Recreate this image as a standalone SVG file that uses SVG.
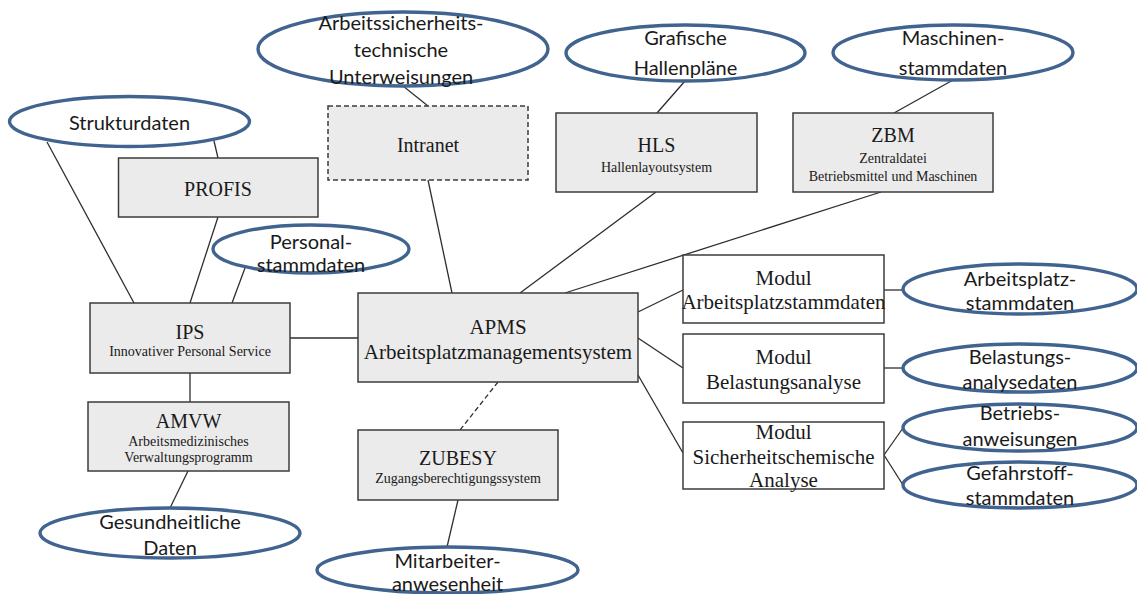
<svg xmlns="http://www.w3.org/2000/svg" width="1137" height="594" viewBox="0 0 1137 594">
<style>
.box{fill:#ebebeb;stroke:#3c3c3c;stroke-width:1.5}
.mod{fill:#ffffff;stroke:#3c3c3c;stroke-width:1.5}
.dash{stroke-dasharray:5,3}
.ell{fill:#ffffff;stroke:#41638f;stroke-width:3.4}
.ln{stroke:#2e2e2e;stroke-width:1.3;fill:none}
.t{font-family:"Liberation Serif","Times New Roman",serif;fill:#1a1a1a;text-anchor:middle}
.big{font-size:20px}
.apms{font-size:21px}
.sm{font-size:14px}
.e{font-family:Lato,"Liberation Sans",sans-serif;font-size:20px;fill:#1a1a1a;text-anchor:middle}
</style>
<rect width="1137" height="594" fill="#ffffff"/>
<g id="connectors">
<line class="ln" x1="403" y1="86" x2="428" y2="106"/>
<line class="ln" x1="428" y1="180" x2="452" y2="293"/>
<line class="ln" x1="47" y1="142" x2="134" y2="303"/>
<line class="ln" x1="214" y1="141" x2="218" y2="158"/>
<line class="ln" x1="218" y1="217" x2="190" y2="303"/>
<line class="ln" x1="245" y1="268" x2="232" y2="303"/>
<line class="ln" x1="290" y1="338" x2="358" y2="338"/>
<line class="ln" x1="190" y1="373" x2="190" y2="402"/>
<line class="ln" x1="188" y1="471" x2="170" y2="508"/>
<line class="ln" x1="685" y1="81" x2="657" y2="113"/>
<line class="ln" x1="656" y1="192" x2="520" y2="293"/>
<line class="ln" x1="953" y1="80" x2="894" y2="113"/>
<line class="ln" x1="881" y1="192" x2="565" y2="293"/>
<line class="ln dash" x1="498" y1="382" x2="460" y2="430"/>
<line class="ln" x1="458" y1="500" x2="447" y2="547"/>
<line class="ln" x1="638" y1="312" x2="683" y2="290"/>
<line class="ln" x1="638" y1="338" x2="683" y2="368"/>
<line class="ln" x1="638" y1="375" x2="683" y2="453"/>
<line class="ln" x1="884" y1="290" x2="903" y2="290"/>
<line class="ln" x1="884" y1="368" x2="903" y2="368"/>
<line class="ln" x1="884" y1="455" x2="903" y2="428"/>
<line class="ln" x1="884" y1="455" x2="903" y2="485"/>
</g>
<g id="n-asu">
<ellipse class="ell" cx="403" cy="49" rx="145" ry="37"/>
<text class="e" x="401" y="30">Arbeitssicherheits-</text>
<text class="e" x="401" y="57">technische</text>
<text class="e" x="401" y="84">Unterweisungen</text>
</g>
<g id="n-intranet">
<rect class="box dash" x="328" y="106" width="200" height="74"/>
<text class="t big" x="428" y="152">Intranet</text>
</g>
<g id="n-struktur">
<ellipse class="ell" cx="129.5" cy="121.5" rx="120" ry="25"/>
<text class="e" x="129.5" y="130">Strukturdaten</text>
</g>
<g id="n-profis">
<rect class="box" x="118.5" y="158" width="199.5" height="59"/>
<text class="t big" x="218" y="196">PROFIS</text>
</g>
<g id="n-grafisch">
<ellipse class="ell" cx="685.5" cy="53" rx="119.5" ry="28"/>
<text class="e" x="685.5" y="45">Grafische</text>
<text class="e" x="685.5" y="75">Hallenpläne</text>
</g>
<g id="n-hls">
<rect class="box" x="556" y="113" width="201" height="79"/>
<text class="t big" x="656.5" y="152">HLS</text>
<text class="t sm" x="656.5" y="172">Hallenlayoutsystem</text>
</g>
<g id="n-maschinen">
<ellipse class="ell" cx="953" cy="52.5" rx="120" ry="27.5"/>
<text class="e" x="953" y="45">Maschinen-</text>
<text class="e" x="953" y="75">stammdaten</text>
</g>
<g id="n-zbm">
<rect class="box" x="793" y="113" width="200" height="79"/>
<text class="t big" x="893" y="142">ZBM</text>
<text class="t sm" x="893" y="163">Zentraldatei</text>
<text class="t sm" x="893" y="181">Betriebsmittel und Maschinen</text>
</g>
<g id="n-personal">
<ellipse class="ell" cx="311" cy="249" rx="98" ry="24"/>
<text class="e" x="311" y="249">Personal-</text>
<text class="e" x="311" y="272">stammdaten</text>
</g>
<g id="n-ips">
<rect class="box" x="90" y="303" width="200" height="70"/>
<text class="t big" x="190" y="339">IPS</text>
<text class="t sm" x="190" y="356">Innovativer Personal Service</text>
</g>
<g id="n-amvw">
<rect class="box" x="88" y="402" width="201" height="69"/>
<text class="t big" x="188.5" y="428">AMVW</text>
<text class="t sm" x="188.5" y="446">Arbeitsmedizinisches</text>
<text class="t sm" x="188.5" y="462">Verwaltungsprogramm</text>
</g>
<g id="n-gesund">
<ellipse class="ell" cx="170" cy="533" rx="130" ry="25"/>
<text class="e" x="170" y="529">Gesundheitliche</text>
<text class="e" x="170" y="555">Daten</text>
</g>
<g id="n-apms">
<rect class="box" x="358" y="293" width="280" height="89"/>
<text class="t apms" x="498" y="334">APMS</text>
<text class="t apms" x="498" y="359">Arbeitsplatzmanagementsystem</text>
</g>
<g id="n-zubesy">
<rect class="box" x="358" y="430" width="200" height="70"/>
<text class="t big" x="458" y="465">ZUBESY</text>
<text class="t sm" x="458" y="483">Zugangsberechtigungssystem</text>
</g>
<g id="n-mitarbeiter">
<ellipse class="ell" cx="447.5" cy="570" rx="130.5" ry="23"/>
<text class="e" x="447.5" y="568">Mitarbeiter-</text>
<text class="e" x="447.5" y="591">anwesenheit</text>
</g>
<g id="n-modul1">
<rect class="mod" x="683" y="255" width="201" height="68"/>
<text class="t apms" x="783.5" y="285">Modul</text>
<text class="t apms" x="783.5" y="309">Arbeitsplatzstammdaten</text>
</g>
<g id="n-modul2">
<rect class="mod" x="683" y="334" width="201" height="69"/>
<text class="t apms" x="783.5" y="364">Modul</text>
<text class="t apms" x="783.5" y="389">Belastungsanalyse</text>
</g>
<g id="n-modul3">
<rect class="mod" x="683" y="422" width="201" height="67"/>
<text class="t apms" x="783.5" y="439">Modul</text>
<text class="t apms" x="783.5" y="464">Sicherheitschemische</text>
<text class="t apms" x="783.5" y="487">Analyse</text>
</g>
<g id="n-apstamm">
<ellipse class="ell" cx="1020" cy="289" rx="117" ry="25"/>
<text class="e" x="1020" y="286">Arbeitsplatz-</text>
<text class="e" x="1020" y="310">stammdaten</text>
</g>
<g id="n-belast">
<ellipse class="ell" cx="1020" cy="368" rx="117" ry="24"/>
<text class="e" x="1020" y="364">Belastungs-</text>
<text class="e" x="1020" y="389">analysedaten</text>
</g>
<g id="n-betrieb">
<ellipse class="ell" cx="1020" cy="427.5" rx="117" ry="23.5"/>
<text class="e" x="1020" y="420">Betriebs-</text>
<text class="e" x="1020" y="446">anweisungen</text>
</g>
<g id="n-gefahr">
<ellipse class="ell" cx="1020" cy="485" rx="117" ry="23"/>
<text class="e" x="1020" y="480">Gefahrstoff-</text>
<text class="e" x="1020" y="505">stammdaten</text>
</g>
</svg>
